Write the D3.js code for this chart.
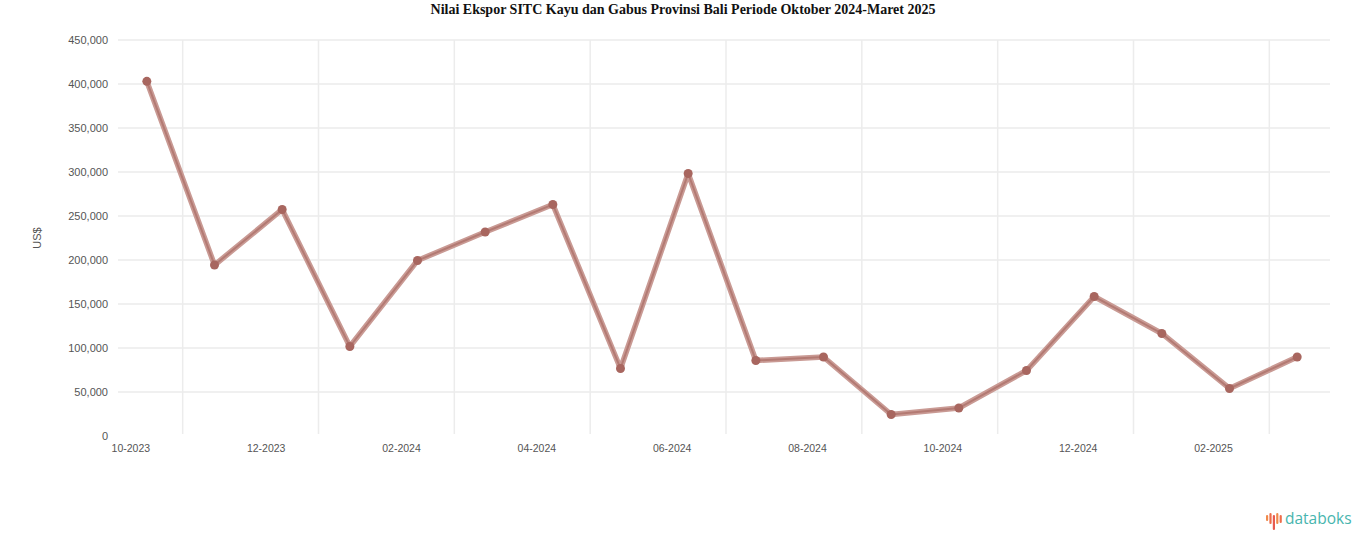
<!DOCTYPE html>
<html>
<head>
<meta charset="utf-8">
<script src="https://cdn.jsdelivr.net/npm/d3@7"></script>
<style>
  body { margin: 0; background: #fff; }
  svg { display: block; }
</style>
</head>
<body>
<svg id="chart" width="1366" height="547"></svg>
<script>
const titleText = "Nilai Ekspor SITC Kayu dan Gabus Provinsi Bali Periode Oktober 2024-Maret 2025";
const yLabel = "US$";
const months = ["10-2023","11-2023","12-2023","01-2024","02-2024","03-2024","04-2024","05-2024","06-2024",
                "07-2024","08-2024","09-2024","10-2024","11-2024","12-2024","01-2025","02-2025","03-2025"];
const values = [403000, 194300, 257400, 101700, 199400, 231800, 263100, 76700, 298300,
                85800, 89800, 24400, 31800, 74400, 158500, 116500, 54000, 89800];
const yTicks = [0, 50000, 100000, 150000, 200000, 250000, 300000, 350000, 400000, 450000];

const svg = d3.select("#chart");
const W = 1366, H = 547;
const plot = {left: 113, right: 1331, top: 40, bottom: 436};

const x = d3.scaleBand().domain(months).range([plot.left, plot.right]).padding(0);
const y = d3.scaleLinear().domain([0, 450000]).range([plot.bottom, plot.top]);
const cx = d => x(d) + x.bandwidth() / 2;

// title
svg.append("text")
  .attr("x", W / 2).attr("y", 14)
  .attr("text-anchor", "middle")
  .attr("font-family", "'Liberation Serif', 'Times New Roman', serif")
  .attr("font-weight", "bold").attr("font-size", 14).attr("fill", "#111")
  .text(titleText);

// horizontal grid
svg.append("g").selectAll("line").data(yTicks.filter(t => t > 0)).join("line")
  .attr("x1", plot.left + 5).attr("x2", plot.right - 1)
  .attr("y1", d => y(d)).attr("y2", d => y(d))
  .attr("stroke", "#ebebeb").attr("stroke-width", 1.5);

// vertical grid at every second band boundary
const vgrid = months.filter((m, i) => i % 2 === 0);
svg.append("g").selectAll("line").data(vgrid).join("line")
  .attr("x1", (d, i) => x(d) + x.step() + 2 + i * 0.5).attr("x2", (d, i) => x(d) + x.step() + 2 + i * 0.5)
  .attr("y1", plot.top).attr("y2", plot.bottom - 2)
  .attr("stroke", "#ececec").attr("stroke-width", 1.5);

// y tick labels
svg.append("g").selectAll("text").data(yTicks).join("text")
  .attr("x", 108).attr("y", d => y(d) + 4)
  .attr("text-anchor", "end")
  .attr("font-family", "'Liberation Sans', Arial, sans-serif")
  .attr("font-size", 11).attr("fill", "#555")
  .text(d => d3.format(",")(d));

// y axis label
svg.append("text")
  .attr("transform", `translate(41,${(plot.top + plot.bottom) / 2}) rotate(-90)`)
  .attr("text-anchor", "middle")
  .attr("font-family", "'Liberation Sans', Arial, sans-serif")
  .attr("font-size", 11).attr("fill", "#555")
  .text(yLabel);

// x tick labels
svg.append("g").selectAll("text").data(vgrid).join("text")
  .attr("x", d => cx(d) - 16).attr("y", plot.bottom + 16)
  .attr("text-anchor", "middle")
  .attr("font-family", "'Liberation Sans', Arial, sans-serif")
  .attr("font-size", 10.5).attr("fill", "#555")
  .text(d => d);

// line
const line = d3.line().x((d, i) => cx(months[i])).y(d => y(d));
svg.append("path").datum(values)
  .attr("d", line).attr("fill", "none")
  .attr("stroke", "#c99a94").attr("stroke-width", 5.5)
  .attr("stroke-linejoin", "round");
svg.append("path").datum(values)
  .attr("d", line).attr("fill", "none")
  .attr("stroke", "#b37a73").attr("stroke-width", 2);

// markers
svg.append("g").selectAll("circle").data(values).join("circle")
  .attr("cx", (d, i) => cx(months[i])).attr("cy", d => y(d))
  .attr("r", 4.5).attr("fill", "#a8665f");

// databoks logo
const logo = svg.append("g").attr("transform", "translate(1266,511)");
const barH = [6, 11, 15, 11, 8];
const barC = ["#f08a4b", "#ee6d4a", "#e85a4f", "#f08a4b", "#ee6d4a"];
logo.selectAll("rect").data(barH).join("rect")
  .attr("x", (d, i) => i * 3.4).attr("y", (d, i) => i % 2 === 0 ? 4 : 2)
  .attr("width", 2.2).attr("height", d => d).attr("rx", 1.1)
  .attr("fill", (d, i) => barC[i]);
svg.append("text")
  .attr("x", 1285).attr("y", 524)
  .attr("font-family", "'Open Sans', 'Noto Sans', sans-serif")
  .attr("font-size", 15.5).attr("fill", "#47b5ae")
  .text("databoks");
</script>
</body>
</html>
